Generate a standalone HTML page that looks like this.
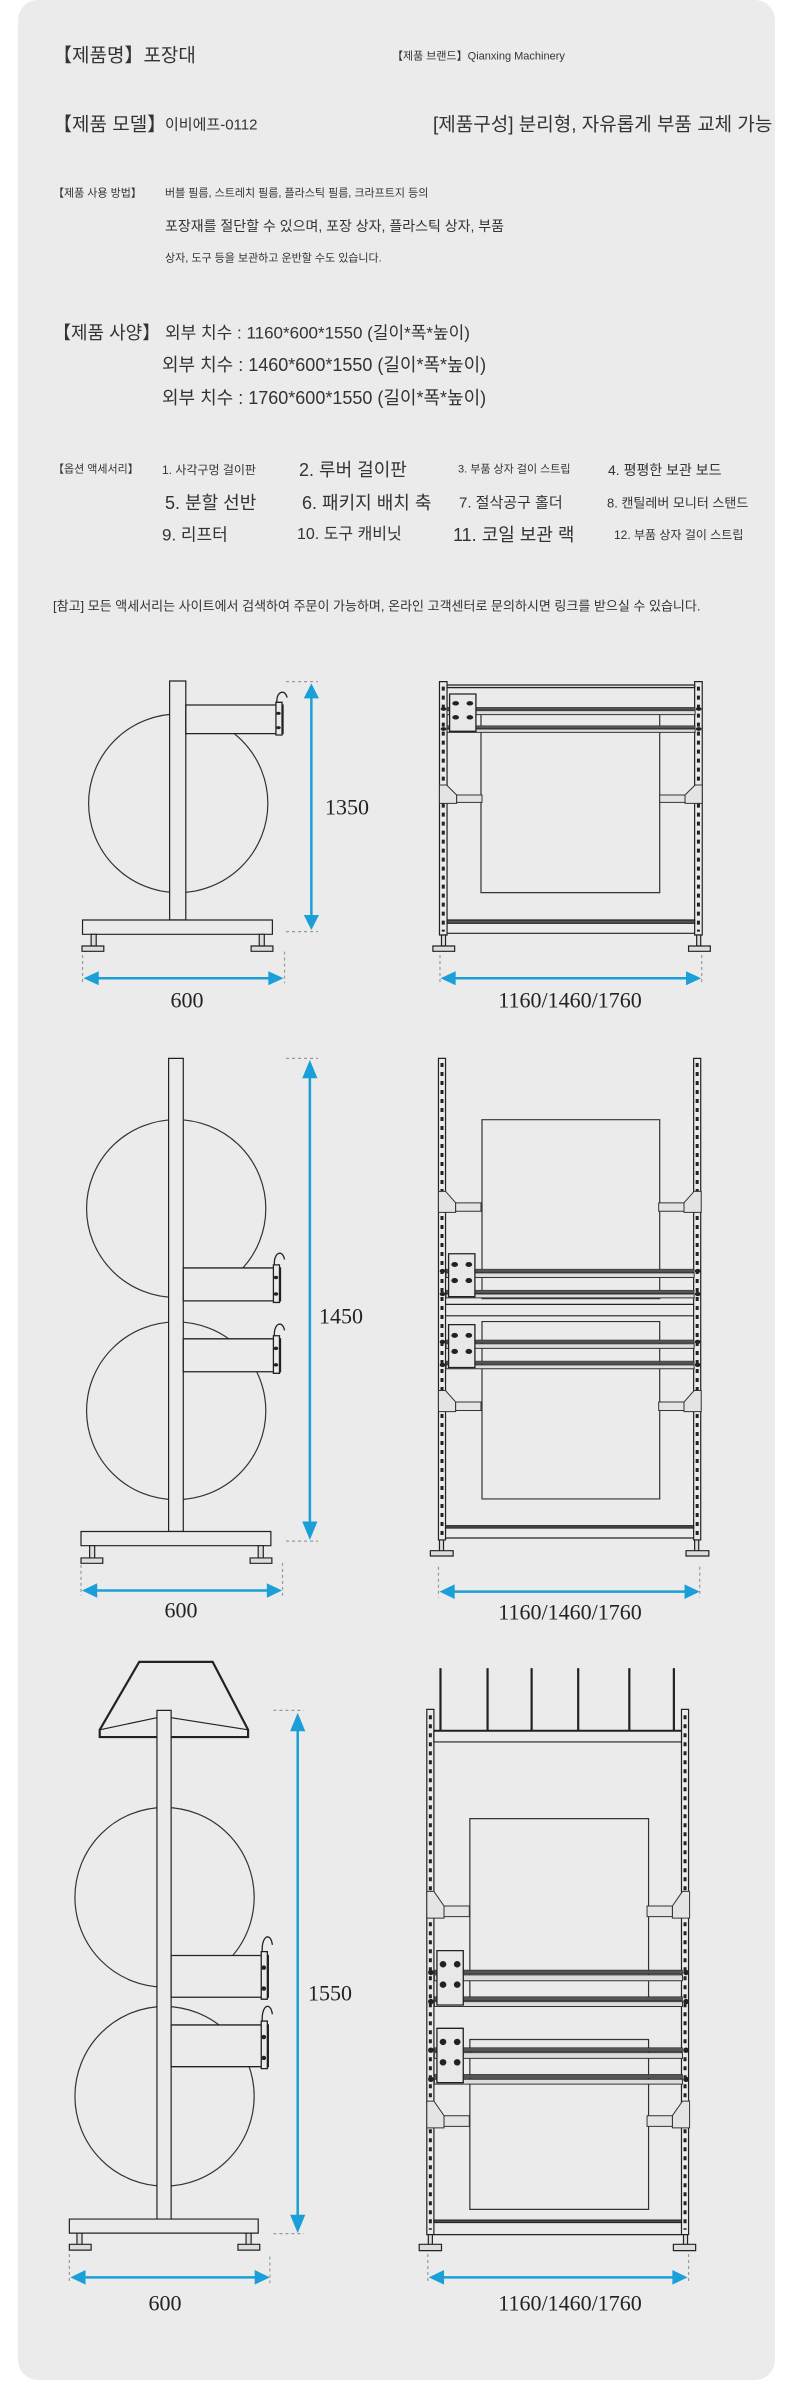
<!DOCTYPE html>
<html><head><meta charset="utf-8">
<style>
html,body{margin:0;padding:0;background:#fff;}
body{width:790px;height:2394px;position:relative;overflow:hidden;font-family:"Liberation Sans","Noto Sans CJK KR",sans-serif;color:#333;}
#panel{position:absolute;left:18px;top:0;width:757px;height:2380px;background:#ebebeb;border-radius:20px;}
.t{position:absolute;white-space:nowrap;line-height:1;transform:translateY(-50%);}
svg{position:absolute;left:0;top:0;}
.n{font-family:"Liberation Serif",serif;font-size:22px;fill:#222;}
</style></head><body>
<div id="panel"></div>
<div class="t" style="left:53px;top:56px;font-size:19px;">【제품명】포장대</div>
<div class="t" style="left:392px;top:57px;font-size:11px;">【제품 브랜드】Qianxing Machinery</div>
<div class="t" style="left:53px;top:125px;font-size:19px;">【제품 모델】</div>
<div class="t" style="left:165px;top:125px;font-size:15px;">이비에프-0112</div>
<div class="t" style="left:433px;top:125px;font-size:19px;">[제품구성] 분리형, 자유롭게 부품 교체 가능</div>
<div class="t" style="left:53px;top:194px;font-size:11px;">【제품 사용 방법】</div>
<div class="t" style="left:165px;top:194px;font-size:11px;">버블 필름, 스트레치 필름, 플라스틱 필름, 크라프트지 등의</div>
<div class="t" style="left:165px;top:226px;font-size:14px;">포장재를 절단할 수 있으며, 포장 상자, 플라스틱 상자, 부품</div>
<div class="t" style="left:165px;top:259px;font-size:11px;">상자, 도구 등을 보관하고 운반할 수도 있습니다.</div>
<div class="t" style="left:53px;top:333px;font-size:18px;">【제품 사양】</div>
<div class="t" style="left:165px;top:333px;font-size:17px;">외부 치수 : 1160*600*1550 (길이*폭*높이)</div>
<div class="t" style="left:162px;top:365px;font-size:18px;">외부 치수 : 1460*600*1550 (길이*폭*높이)</div>
<div class="t" style="left:162px;top:398px;font-size:18px;">외부 치수 : 1760*600*1550 (길이*폭*높이)</div>
<div class="t" style="left:53px;top:470px;font-size:11px;">【옵션 액세서리】</div>
<div class="t" style="left:162px;top:470px;font-size:12px;">1. 사각구멍 걸이판</div>
<div class="t" style="left:299px;top:470px;font-size:18px;">2. 루버 걸이판</div>
<div class="t" style="left:458px;top:470px;font-size:11px;">3. 부품 상자 걸이 스트립</div>
<div class="t" style="left:608px;top:470px;font-size:14px;">4. 평평한 보관 보드</div>
<div class="t" style="left:165px;top:503px;font-size:18px;">5. 분할 선반</div>
<div class="t" style="left:302px;top:503px;font-size:18px;">6. 패키지 배치 축</div>
<div class="t" style="left:459px;top:503px;font-size:15px;">7. 절삭공구 홀더</div>
<div class="t" style="left:607px;top:503px;font-size:13px;">8. 캔틸레버 모니터 스탠드</div>
<div class="t" style="left:162px;top:535px;font-size:17px;">9. 리프터</div>
<div class="t" style="left:297px;top:535px;font-size:16px;">10. 도구 캐비닛</div>
<div class="t" style="left:453px;top:535px;font-size:18px;">11. 코일 보관 랙</div>
<div class="t" style="left:614px;top:535px;font-size:12px;">12. 부품 상자 걸이 스트립</div>
<div class="t" style="left:53px;top:606px;font-size:13px;">[참고] 모든 액세서리는 사이트에서 검색하여 주문이 가능하며, 온라인 고객센터로 문의하시면 링크를 받으실 수 있습니다.</div>

<svg width="790" height="2394" viewBox="0 0 790 2394">
<defs>
<g id="arm">
 <rect x="0" y="0" width="192" height="86" fill="#ebebeb" stroke="#222" stroke-width="1.3" vector-effect="non-scaling-stroke"/>
 <rect x="178" y="-8" width="12" height="98" fill="#ebebeb" stroke="#222" stroke-width="1.3" vector-effect="non-scaling-stroke"/>
 <path d="M180,-8 C178,-40 196,-50 200,-22" fill="none" stroke="#222" stroke-width="1.3" vector-effect="non-scaling-stroke"/>
 <circle cx="183" cy="25" r="4" fill="#222"/><circle cx="183" cy="68" r="4" fill="#222"/>
</g>
<g id="shelf">
 <rect x="15" y="0" width="490" height="8" fill="#555"/>
 <rect x="15" y="10" width="490" height="12" fill="#ddd" stroke="#333" stroke-width="1" vector-effect="non-scaling-stroke"/>
 <rect x="15" y="55" width="490" height="8" fill="#555"/>
 <rect x="15" y="65" width="490" height="10" fill="#ddd" stroke="#333" stroke-width="1" vector-effect="non-scaling-stroke"/>
 <rect x="20" y="-40" width="52" height="112" fill="#e8e8e8" stroke="#222" stroke-width="1.3" vector-effect="non-scaling-stroke"/>
 <circle cx="32" cy="-12" r="6" fill="#222"/><circle cx="60" cy="-12" r="6" fill="#222"/>
 <circle cx="32" cy="30" r="6" fill="#222"/><circle cx="60" cy="30" r="6" fill="#222"/>
 <circle cx="8" cy="5" r="5" fill="#222"/><circle cx="512" cy="5" r="5" fill="#222"/>
 <circle cx="8" cy="65" r="5" fill="#222"/><circle cx="512" cy="65" r="5" fill="#222"/>
</g>
<g id="brk">
 <polygon points="0,0 14,0 34,30 34,55 0,55" fill="#e4e4e4" stroke="#333" stroke-width="1" vector-effect="non-scaling-stroke"/>
 <rect x="34" y="30" width="50" height="22" fill="#e4e4e4" stroke="#333" stroke-width="1" vector-effect="non-scaling-stroke"/>
 <polygon points="519,0 505,0 485,30 485,55 519,55" fill="#e4e4e4" stroke="#333" stroke-width="1" vector-effect="non-scaling-stroke"/>
 <rect x="435" y="30" width="50" height="22" fill="#e4e4e4" stroke="#333" stroke-width="1" vector-effect="non-scaling-stroke"/>
</g>
</defs>
<g fill="none" stroke="#222" stroke-width="1.2">

<!-- DRAWING 1 -->
<g transform="translate(0,620) scale(0.5063,0.3333)">
 <ellipse cx="352" cy="550" rx="177" ry="268" stroke="#333" vector-effect="non-scaling-stroke"/>
 <rect x="335" y="183" width="32" height="717" fill="#ebebeb" vector-effect="non-scaling-stroke"/>
 <use href="#arm" x="367" y="255"/>
 <rect x="163" y="900" width="375" height="43" fill="#ebebeb" vector-effect="non-scaling-stroke"/>
 <rect x="180" y="943" width="10" height="35" fill="#ddd" vector-effect="non-scaling-stroke"/>
 <rect x="162" y="978" width="43" height="16" fill="#ddd" vector-effect="non-scaling-stroke"/>
 <rect x="512" y="943" width="10" height="35" fill="#ddd" vector-effect="non-scaling-stroke"/>
 <rect x="496" y="978" width="43" height="16" fill="#ddd" vector-effect="non-scaling-stroke"/>
 <!-- right -->
 <rect x="950" y="283" width="353" height="535" stroke="#333" vector-effect="non-scaling-stroke"/>
 <rect x="868" y="185" width="15" height="760" fill="#ebebeb" vector-effect="non-scaling-stroke"/>
 <rect x="1372" y="185" width="15" height="760" fill="#ebebeb" vector-effect="non-scaling-stroke"/>
 <line x1="875.5" y1="200" x2="875.5" y2="935" stroke-dasharray="4 5" stroke-width="3" vector-effect="non-scaling-stroke"/>
 <line x1="1379.5" y1="200" x2="1379.5" y2="935" stroke-dasharray="4 5" stroke-width="3" vector-effect="non-scaling-stroke"/>
 <rect x="883" y="195" width="489" height="8" fill="#ddd" vector-effect="non-scaling-stroke"/>
 <use href="#shelf" x="868" y="262"/>
 <use href="#brk" x="868" y="495"/>
 <rect x="883" y="900" width="489" height="10" fill="#555" vector-effect="non-scaling-stroke"/>
 <line x1="883" y1="940" x2="1372" y2="940" vector-effect="non-scaling-stroke"/>
 <rect x="872" y="945" width="8" height="33" fill="#ddd" vector-effect="non-scaling-stroke"/>
 <rect x="855" y="978" width="43" height="16" fill="#ddd" vector-effect="non-scaling-stroke"/>
 <rect x="1376" y="945" width="8" height="33" fill="#ddd" vector-effect="non-scaling-stroke"/>
 <rect x="1360" y="978" width="43" height="16" fill="#ddd" vector-effect="non-scaling-stroke"/>
 <!-- dims -->
 <g stroke="#999" stroke-dasharray="3 3" vector-effect="non-scaling-stroke">
  <line x1="565" y1="185" x2="628" y2="185" vector-effect="non-scaling-stroke"/><line x1="565" y1="935" x2="628" y2="935" vector-effect="non-scaling-stroke"/>
  <line x1="163" y1="1005" x2="163" y2="1090" vector-effect="non-scaling-stroke"/><line x1="562" y1="995" x2="562" y2="1090" vector-effect="non-scaling-stroke"/>
  <line x1="869" y1="1005" x2="869" y2="1090" vector-effect="non-scaling-stroke"/><line x1="1386" y1="1005" x2="1386" y2="1090" vector-effect="non-scaling-stroke"/>
 </g>
 <g stroke="#1a9fd8" stroke-width="2.5" fill="#1a9fd8">
  <line x1="615" y1="200" x2="615" y2="920" vector-effect="non-scaling-stroke"/>
  <polygon points="615,190 600,235 630,235" stroke="none"/><polygon points="615,930 600,885 630,885" stroke="none"/>
  <line x1="175" y1="1075" x2="550" y2="1075" vector-effect="non-scaling-stroke"/>
  <polygon points="165,1075 195,1054 195,1096" stroke="none"/><polygon points="560,1075 530,1054 530,1096" stroke="none"/>
  <line x1="880" y1="1075" x2="1375" y2="1075" vector-effect="non-scaling-stroke"/>
  <polygon points="870,1075 900,1054 900,1096" stroke="none"/><polygon points="1385,1075 1355,1054 1355,1096" stroke="none"/>
 </g>
</g>

<!-- DRAWING 2 -->
<g transform="translate(0,1040) scale(0.5063,0.3831)">
 <ellipse cx="348" cy="440" rx="177" ry="232" stroke="#333" vector-effect="non-scaling-stroke"/>
 <ellipse cx="348" cy="968" rx="177" ry="232" stroke="#333" vector-effect="non-scaling-stroke"/>
 <rect x="333" y="48" width="29" height="1235" fill="#ebebeb" vector-effect="non-scaling-stroke"/>
 <use href="#arm" x="362" y="595" transform="translate(0,0)"/>
 <use href="#arm" x="362" y="780"/>
 <rect x="160" y="1283" width="375" height="37" fill="#ebebeb" vector-effect="non-scaling-stroke"/>
 <rect x="177" y="1320" width="10" height="35" fill="#ddd" vector-effect="non-scaling-stroke"/>
 <rect x="160" y="1352" width="43" height="14" fill="#ddd" vector-effect="non-scaling-stroke"/>
 <rect x="510" y="1320" width="10" height="35" fill="#ddd" vector-effect="non-scaling-stroke"/>
 <rect x="494" y="1352" width="43" height="14" fill="#ddd" vector-effect="non-scaling-stroke"/>
 <rect x="952" y="208" width="351" height="467" stroke="#333" vector-effect="non-scaling-stroke"/>
 <rect x="952" y="735" width="351" height="463" stroke="#333" vector-effect="non-scaling-stroke"/>
 <rect x="866" y="48" width="14" height="1257" fill="#ebebeb" vector-effect="non-scaling-stroke"/>
 <rect x="1370" y="48" width="14" height="1257" fill="#ebebeb" vector-effect="non-scaling-stroke"/>
 <line x1="873" y1="60" x2="873" y2="1295" stroke-dasharray="4 5" stroke-width="3" vector-effect="non-scaling-stroke"/>
 <line x1="1377" y1="60" x2="1377" y2="1295" stroke-dasharray="4 5" stroke-width="3" vector-effect="non-scaling-stroke"/>
 <use href="#brk" x="866" y="395"/>
 <use href="#brk" x="866" y="915"/>
 <use href="#shelf" x="866" y="598"/>
 <use href="#shelf" x="866" y="783"/>
 <line x1="880" y1="690" x2="1370" y2="690" vector-effect="non-scaling-stroke"/>
 <line x1="880" y1="720" x2="1370" y2="720" vector-effect="non-scaling-stroke"/>
 <rect x="880" y="1268" width="490" height="6" fill="#555" vector-effect="non-scaling-stroke"/>
 <line x1="880" y1="1300" x2="1370" y2="1300" vector-effect="non-scaling-stroke"/>
 <rect x="868" y="1305" width="8" height="30" fill="#ddd" vector-effect="non-scaling-stroke"/>
 <rect x="850" y="1333" width="45" height="14" fill="#ddd" vector-effect="non-scaling-stroke"/>
 <rect x="1372" y="1305" width="8" height="30" fill="#ddd" vector-effect="non-scaling-stroke"/>
 <rect x="1355" y="1333" width="45" height="14" fill="#ddd" vector-effect="non-scaling-stroke"/>
 <g stroke="#999" stroke-dasharray="3 3">
  <line x1="565" y1="48" x2="628" y2="48" vector-effect="non-scaling-stroke"/><line x1="565" y1="1308" x2="628" y2="1308" vector-effect="non-scaling-stroke"/>
  <line x1="160" y1="1370" x2="160" y2="1450" vector-effect="non-scaling-stroke"/><line x1="558" y1="1365" x2="558" y2="1450" vector-effect="non-scaling-stroke"/>
  <line x1="866" y1="1375" x2="866" y2="1455" vector-effect="non-scaling-stroke"/><line x1="1382" y1="1375" x2="1382" y2="1455" vector-effect="non-scaling-stroke"/>
 </g>
 <g stroke="#1a9fd8" stroke-width="2.5" fill="#1a9fd8">
  <line x1="612" y1="60" x2="612" y2="1295" vector-effect="non-scaling-stroke"/>
  <polygon points="612,52 597,100 627,100" stroke="none"/><polygon points="612,1305 597,1257 627,1257" stroke="none"/>
  <line x1="170" y1="1437" x2="550" y2="1437" vector-effect="non-scaling-stroke"/>
  <polygon points="162,1437 192,1418 192,1456" stroke="none"/><polygon points="557,1437 527,1418 527,1456" stroke="none"/>
  <line x1="876" y1="1440" x2="1375" y2="1440" vector-effect="non-scaling-stroke"/>
  <polygon points="868,1440 898,1421 898,1459" stroke="none"/><polygon points="1382,1440 1352,1421 1352,1459" stroke="none"/>
 </g>
</g>

<!-- DRAWING 3 -->
<g transform="translate(0,1640) scale(0.5063,0.4854)">
 <polygon points="275,45 420,45 490,185 490,200 197,200 197,185" fill="#ebebeb" stroke-width="2.2" vector-effect="non-scaling-stroke"/>
 <polyline points="197,185 310,160" vector-effect="non-scaling-stroke"/>
 <polyline points="338,160 490,185" vector-effect="non-scaling-stroke"/>
 <ellipse cx="325" cy="530" rx="177" ry="185" stroke="#333" vector-effect="non-scaling-stroke"/>
 <ellipse cx="325" cy="940" rx="177" ry="185" stroke="#333" vector-effect="non-scaling-stroke"/>
 <rect x="310" y="145" width="28" height="1048" fill="#ebebeb" vector-effect="non-scaling-stroke"/>
 <use href="#arm" x="338" y="650" transform="translate(0,0)"/>
 <use href="#arm" x="338" y="793"/>
 <rect x="137" y="1193" width="373" height="29" fill="#ebebeb" vector-effect="non-scaling-stroke"/>
 <rect x="152" y="1222" width="10" height="25" fill="#ddd" vector-effect="non-scaling-stroke"/>
 <rect x="137" y="1245" width="43" height="12" fill="#ddd" vector-effect="non-scaling-stroke"/>
 <rect x="486" y="1222" width="10" height="25" fill="#ddd" vector-effect="non-scaling-stroke"/>
 <rect x="470" y="1245" width="43" height="12" fill="#ddd" vector-effect="non-scaling-stroke"/>
 <g stroke-width="2.2">
  <line x1="870" y1="58" x2="870" y2="187" vector-effect="non-scaling-stroke"/>
  <line x1="963" y1="58" x2="963" y2="187" vector-effect="non-scaling-stroke"/>
  <line x1="1050" y1="58" x2="1050" y2="187" vector-effect="non-scaling-stroke"/>
  <line x1="1142" y1="58" x2="1142" y2="187" vector-effect="non-scaling-stroke"/>
  <line x1="1243" y1="58" x2="1243" y2="187" vector-effect="non-scaling-stroke"/>
  <line x1="1331" y1="58" x2="1331" y2="187" vector-effect="non-scaling-stroke"/>
 </g>
 <rect x="928" y="368" width="353" height="370" stroke="#333" vector-effect="non-scaling-stroke"/>
 <rect x="928" y="823" width="353" height="350" stroke="#333" vector-effect="non-scaling-stroke"/>
 <rect x="843" y="143" width="14" height="1082" fill="#ebebeb" vector-effect="non-scaling-stroke"/>
 <rect x="1346" y="143" width="14" height="1082" fill="#ebebeb" vector-effect="non-scaling-stroke"/>
 <line x1="850" y1="155" x2="850" y2="1215" stroke-dasharray="4 5" stroke-width="3" vector-effect="non-scaling-stroke"/>
 <line x1="1353" y1="155" x2="1353" y2="1215" stroke-dasharray="4 5" stroke-width="3" vector-effect="non-scaling-stroke"/>
 <rect x="857" y="187" width="489" height="23" fill="#ebebeb" vector-effect="non-scaling-stroke"/>
 <line x1="857" y1="187" x2="1346" y2="187" stroke-width="2" vector-effect="non-scaling-stroke"/>
 <use href="#brk" x="843" y="518"/>
 <use href="#brk" x="843" y="950"/>
 <use href="#shelf" x="843" y="680"/>
 <use href="#shelf" x="843" y="840"/>
 <rect x="857" y="1195" width="489" height="5" fill="#555" vector-effect="non-scaling-stroke"/>
 <line x1="857" y1="1225" x2="1346" y2="1225" vector-effect="non-scaling-stroke"/>
 <rect x="846" y="1225" width="8" height="22" fill="#ddd" vector-effect="non-scaling-stroke"/>
 <rect x="828" y="1245" width="44" height="13" fill="#ddd" vector-effect="non-scaling-stroke"/>
 <rect x="1350" y="1225" width="8" height="22" fill="#ddd" vector-effect="non-scaling-stroke"/>
 <rect x="1330" y="1245" width="44" height="13" fill="#ddd" vector-effect="non-scaling-stroke"/>
 <g stroke="#999" stroke-dasharray="3 3">
  <line x1="540" y1="145" x2="600" y2="145" vector-effect="non-scaling-stroke"/><line x1="540" y1="1223" x2="600" y2="1223" vector-effect="non-scaling-stroke"/>
  <line x1="137" y1="1265" x2="137" y2="1325" vector-effect="non-scaling-stroke"/><line x1="533" y1="1270" x2="533" y2="1325" vector-effect="non-scaling-stroke"/>
  <line x1="845" y1="1265" x2="845" y2="1325" vector-effect="non-scaling-stroke"/><line x1="1360" y1="1265" x2="1360" y2="1325" vector-effect="non-scaling-stroke"/>
 </g>
 <g stroke="#1a9fd8" stroke-width="2.5" fill="#1a9fd8">
  <line x1="588" y1="160" x2="588" y2="1210" vector-effect="non-scaling-stroke"/>
  <polygon points="588,150 573,188 603,188" stroke="none"/><polygon points="588,1222 573,1184 603,1184" stroke="none"/>
  <line x1="147" y1="1313" x2="525" y2="1313" vector-effect="non-scaling-stroke"/>
  <polygon points="139,1313 169,1298 169,1328" stroke="none"/><polygon points="533,1313 503,1298 503,1328" stroke="none"/>
  <line x1="855" y1="1313" x2="1350" y2="1313" vector-effect="non-scaling-stroke"/>
  <polygon points="847,1313 877,1298 877,1328" stroke="none"/><polygon points="1358,1313 1328,1298 1328,1328" stroke="none"/>
 </g>
</g>
</g>
<g class="n" text-anchor="middle" dominant-baseline="central" stroke="none">
 <text x="347" y="807">1350</text>
 <text x="187" y="1000">600</text>
 <text x="570" y="1000">1160/1460/1760</text>
 <text x="341" y="1316">1450</text>
 <text x="181" y="1610">600</text>
 <text x="570" y="1612">1160/1460/1760</text>
 <text x="330" y="1993">1550</text>
 <text x="165" y="2303">600</text>
 <text x="570" y="2303">1160/1460/1760</text>
</g>
</svg>
</body></html>
